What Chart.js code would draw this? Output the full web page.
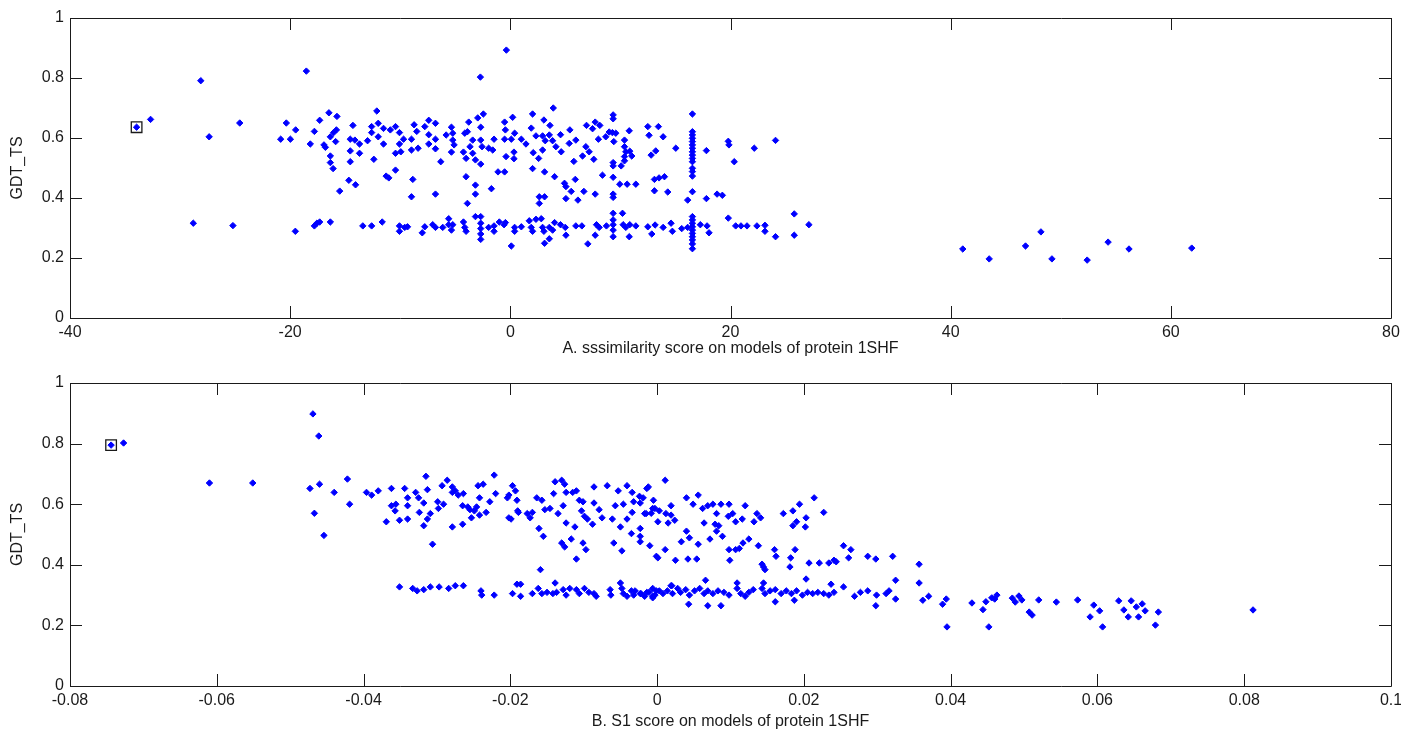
<!DOCTYPE html>
<html>
<head>
<meta charset="utf-8">
<script src="https://cdn.jsdelivr.net/npm/chart.js@4.4.0/dist/chart.umd.min.js"></script>
<style>
  html, body { margin: 0; padding: 0; background: #fff; }
  #wrap { position: relative; width: 1401px; height: 731px; }
  canvas { position: absolute; left: 0; }
  #chartA { top: 0; }
  #chartB { top: 365px; }
</style>
</head>
<body>
<div id="wrap">
  <canvas id="chartA" width="1401" height="365"></canvas>
  <canvas id="chartB" width="1401" height="366"></canvas>
</div>
<script>
// ---- panel A : sssimilarity score vs GDT_TS ----
var topXTicks = [-40, -20, 0, 20, 40, 60, 80];
var yTicks = [0, 0.2, 0.4, 0.6, 0.8, 1];

var topX = [
  -33.95, -32.68, -28.12, -27.36, -24.58, -28.8, -25.2, -18.53, -2.72, -0.36,
  -20.35, -20.86, -19.98, -19.5, -16.48, -15.75, -17.32, -17.8, -18.17, -16.93,
  -16.8, -16.35, -16.05, -15.8, -15.87, -16.35, -16.35, -16.1, -15.5, -14.67,
  -14.06, -14.3, -14.54, -14.12, -13.7, -14.54, -13.7, -14.54, -12.97, -12.4,
  -12.13, -12.0, -12.6, -12.6, -12.0, -11.52, -11.52, -10.9, -10.43, -10.07,
  -10.07, -10.43, -9.95, -11.28, -11.04, -10.43, -9.7, -8.98, -8.74, -8.5,
  -8.98, -8.38, -8.86, -8.98, -7.41, -7.77, -6.8, -7.41, -7.41, -6.8,
  -6.8, -6.32, -6.8, -5.83, -5.35, -5.23, -5.23, -5.11, -5.35, -4.26,
  -4.14, -3.78, -2.96, -2.45, -2.69, -3.9, -3.42, -4.02, -3.42, -3.17,
  -3.66, -2.69, -2.57, -1.97, -1.6, -1.48, -2.69, -4.02, -3.17, -3.17,
  -3.9, -1.72, -1.12, -0.52, -0.52, -0.52, -0.39,
  -17.8, -17.57, -17.32, -16.35, -13.4, -12.6, -11.64, -10.07, -10.07, -9.59,
  -9.34, -8.0, -7.77, -7.05, -6.8, -6.14, -5.6, -5.6, -5.23, -5.35,
  -4.26, -4.14, -4.02, -3.17, -2.69, -2.69, -2.69, -2.69, -2.69, -1.97,
  -1.48, -1.48, -1.0, -0.45, -19.53,
  3.9, 2.02, 0.21, 3.05, 3.6, 1.9, -0.45, 0.39, 0.09, 1.0,
  1.42, 2.33, 2.93, 3.54, 3.17, 3.84, 4.56, 4.14, 4.62, 2.93,
  2.08, 2.57, 0.33, 0.33, 5.35, 5.95, 5.41, 6.92, 7.71, 7.47,
  8.13, 9.34, 9.34, 9.27, 8.98, 9.58, 8.67, 8.0, 9.4, 6.86,
  7.16, 6.56, 7.58, 5.77, 9.34, 9.34, 10.07, 10.37, 10.37, 10.49,
  10.37, 10.37, 10.85, 11.03, 10.8, 12.49, 13.45, 12.6, 13.88, 13.21,
  12.79, 15.03, 2.02, 3.11, 4.02, 5.9, 4.92, 5.05, 8.37, 9.34,
  9.94, 10.61, 11.4, 5.53, 6.68, 7.71, 9.34, 9.34, 5.05, 6.14,
  2.63, 3.11, 2.63, 13.09, 13.51, 14.0, 13.09, 14.3, 16.11, 17.81,
  18.78, 19.26, 17.81, 19.8, 19.86, 20.34, 22.16, 24.09,
  16.54, 16.54, 16.54, 16.54, 16.54, 16.54, 16.54, 16.54, 16.54, 16.54,
  16.54, 16.54, 16.54, 16.54, 16.54, 16.54, 16.54, 16.54, 16.54, 16.54,
  16.54, 16.54, 16.54, 16.54, 16.54,
  16.11, 17.26, 17.87, 18.05, 15.57, 14.6, 14.72, 13.88, 13.15, 12.49,
  12.85, 19.8, 20.47, 20.95, 21.5, 22.4, 23.13, 23.13, 24.09, 25.79,
  25.79, 27.12,
  -0.57, 0.09, 0.39, 0.39, 1.0, 1.72, 1.9, 2.02, 2.33, 2.81,
  2.93, 3.05, 3.11, 3.54, 3.54, 3.84, 4.02, 4.56, 4.99, 5.05,
  5.95, 6.5, 7.04, 7.71, 7.83, 8.07, 8.73, 9.34, 9.34, 9.34,
  9.34, 9.34, 10.19, 10.25, 10.49, 10.85, 11.4, 10.8,
  41.1, 43.5, 46.8, 48.2, 49.2, 52.4, 54.3, 56.2, 61.9
];
var topY = [
  0.636, 0.662, 0.791, 0.604, 0.650, 0.316, 0.308, 0.823, 0.803, 0.893,
  0.650, 0.596, 0.596, 0.627, 0.684, 0.672, 0.659, 0.622, 0.580, 0.577,
  0.569, 0.604, 0.618, 0.627, 0.588, 0.540, 0.518, 0.498, 0.423, 0.459,
  0.444, 0.642, 0.596, 0.593, 0.580, 0.557, 0.549, 0.521, 0.591, 0.529,
  0.690, 0.649, 0.638, 0.618, 0.604, 0.632, 0.580, 0.627, 0.638, 0.618,
  0.580, 0.549, 0.554, 0.473, 0.467, 0.493, 0.596, 0.596, 0.644, 0.622,
  0.560, 0.566, 0.462, 0.404, 0.659, 0.638, 0.649, 0.611, 0.580, 0.596,
  0.564, 0.521, 0.413, 0.610, 0.636, 0.616, 0.593, 0.577, 0.553, 0.553,
  0.616, 0.653, 0.667, 0.680, 0.636, 0.621, 0.593, 0.532, 0.549, 0.527,
  0.571, 0.593, 0.571, 0.566, 0.560, 0.596, 0.513, 0.471, 0.443, 0.413,
  0.382, 0.431, 0.487, 0.487, 0.653, 0.596, 0.538,
  0.307, 0.316, 0.320, 0.320, 0.307, 0.307, 0.320, 0.307, 0.289, 0.302,
  0.304, 0.284, 0.304, 0.311, 0.302, 0.302, 0.331, 0.311, 0.311, 0.293,
  0.320, 0.302, 0.289, 0.338, 0.338, 0.316, 0.298, 0.280, 0.262, 0.302,
  0.307, 0.289, 0.320, 0.318, 0.289,
  0.700, 0.680, 0.669, 0.660, 0.642, 0.633, 0.627, 0.616, 0.596, 0.596,
  0.580, 0.607, 0.607, 0.610, 0.591, 0.591, 0.611, 0.571, 0.554, 0.560,
  0.551, 0.532, 0.553, 0.531, 0.582, 0.593, 0.627, 0.642, 0.653, 0.631,
  0.642, 0.677, 0.664, 0.618, 0.620, 0.616, 0.604, 0.596, 0.588, 0.571,
  0.554, 0.540, 0.529, 0.522, 0.518, 0.507, 0.507, 0.593, 0.571, 0.554,
  0.538, 0.524, 0.556, 0.540, 0.624, 0.638, 0.638, 0.609, 0.604, 0.557,
  0.543, 0.566, 0.498, 0.487, 0.471, 0.462, 0.449, 0.438, 0.476, 0.469,
  0.446, 0.446, 0.446, 0.422, 0.422, 0.413, 0.413, 0.402, 0.398, 0.393,
  0.404, 0.404, 0.382, 0.462, 0.467, 0.471, 0.424, 0.420, 0.393, 0.398,
  0.413, 0.409, 0.558, 0.589, 0.577, 0.521, 0.566, 0.592,
  0.680, 0.621, 0.610, 0.599, 0.588, 0.577, 0.566, 0.554, 0.543, 0.532,
  0.521, 0.499, 0.488, 0.473, 0.421, 0.338, 0.327, 0.316, 0.304, 0.293,
  0.282, 0.271, 0.260, 0.247, 0.231,
  0.302, 0.311, 0.307, 0.284, 0.298, 0.316, 0.289, 0.302, 0.310, 0.304,
  0.280, 0.333, 0.307, 0.307, 0.307, 0.307, 0.309, 0.289, 0.271, 0.347,
  0.276, 0.311,
  0.311, 0.240, 0.302, 0.289, 0.304, 0.324, 0.302, 0.289, 0.329, 0.331,
  0.302, 0.289, 0.249, 0.302, 0.264, 0.293, 0.318, 0.311, 0.302, 0.276,
  0.307, 0.307, 0.247, 0.276, 0.311, 0.302, 0.307, 0.349, 0.327, 0.311,
  0.293, 0.271, 0.349, 0.311, 0.302, 0.311, 0.307, 0.271,
  0.230, 0.197, 0.240, 0.287, 0.197, 0.193, 0.253, 0.230, 0.233
];
// boxed model in panel A
var topMarkX = [-33.95];
var topMarkY = [0.636];

// ---- panel B : S1 score vs GDT_TS ----
var botXTicks = [-0.08, -0.06, -0.04, -0.02, 0, 0.02, 0.04, 0.06, 0.08, 0.1];

var botX = [
  -0.0744, -0.0727, -0.061, -0.0551, -0.0469, -0.0461, -0.0473, -0.046, -0.0467, -0.0454, -0.0422, -0.0419,
  -0.044, -0.0396, -0.0389, -0.038, -0.0362, -0.0344, -0.0362, -0.0356, -0.0357, -0.0369,
  -0.0351, -0.034, -0.034, -0.034, -0.0329, -0.0325, -0.0324, -0.0318, -0.0313, -0.0315,
  -0.0313, -0.0318, -0.0309, -0.0306, -0.0299, -0.0298, -0.0291, -0.0293, -0.0286, -0.0279,
  -0.0279, -0.0275, -0.0271, -0.0264, -0.0265, -0.0279, -0.0265, -0.0258, -0.0255, -0.0253,
  -0.0249, -0.0246, -0.0242, -0.0242, -0.0244, -0.0237, -0.0222, -0.022, -0.0228, -0.0233,
  -0.0204, -0.0202, -0.0197, -0.0193, -0.0191, -0.0202, -0.0199, -0.019, -0.0189, -0.0177,
  -0.0173, -0.017, -0.0164, -0.0157, -0.0161, -0.0155, -0.0159, -0.0153, -0.0146, -0.0141,
  -0.0139, -0.013, -0.0126, -0.0124, -0.0135, -0.0128, -0.0124, -0.013, -0.0126, -0.0117,
  -0.0115, -0.011, -0.0112, -0.011, -0.0106, -0.0101, -0.0103, -0.0101, -0.0097, -0.0099,
  -0.0095, -0.0088, -0.0086, -0.0086, -0.0079, -0.0075, -0.0068, -0.0061, -0.0059, -0.0057,
  -0.0053, -0.005, -0.0048, -0.0046, -0.0041, -0.0041, -0.0035, -0.0034, -0.0034, -0.0032,
  -0.0024, -0.0023, -0.0023, -0.0023, -0.0015, -0.0014, -0.001, -0.0008, -0.0003, -0.0001,
  -0.0351, -0.0333, -0.0327, -0.0318, -0.0309, -0.0297, -0.0284, -0.0275, -0.0264, -0.024,
  -0.0239, -0.0222, -0.0197, -0.0191, -0.0186, -0.0186, -0.017, -0.0162, -0.0157, -0.015,
  -0.0142, -0.0139, -0.0137, -0.0128, -0.0124, -0.0119, -0.011, -0.0106, -0.0099, -0.0093,
  -0.0086, -0.0083, -0.0064, -0.0063, -0.005, -0.0048, -0.0046, -0.0041, -0.0035, -0.0032,
  -0.003, -0.0023, -0.0014, -0.0006, -0.0001,
  0.0011, -0.0012, -0.0019, -0.0005, -0.0023, -0.0017, -0.0006, 0.0003, 0.0012, 0.0019,
  0.0019, 0.0015, 0.0024, 0.0001, 0.0001, 0.0011, 0.0025, 0.004, 0.0049, 0.0056,
  0.0062, 0.0069, 0.0076, 0.0087, 0.0098, 0.0081, 0.0064, 0.0079, 0.0084, 0.0081,
  0.0072, 0.0089, 0.004, 0.0044, 0.0033, 0.0056, 0.0042, 0.0054, 0.0097, 0.0103,
  0.0107, 0.0116, 0.012, 0.0136, 0.0141, 0.0132, 0.0098, 0.0107, 0.0112, 0.0099,
  0.0117, 0.0125, 0.0138, 0.0143, 0.0145, 0.0147, 0.016, 0.0162, 0.0172, 0.0185,
  0.0194, 0.0185, 0.019, 0.0203, 0.0202, 0.0214, 0.0227, 0.0182, 0.0181, 0.0188,
  0.0207, 0.0221, 0.0234, 0.0241, 0.0244, 0.0254, 0.0264, 0.0261, 0.0287, 0.0298,
  0.0321, 0.0357, 0.0357, 0.0325, 0.0254, 0.0237, 0.0203, 0.0145, 0.0109, 0.0066,
  0.002,
  -0.0022, -0.0017, -0.0011, -0.0006, -0.0003, 0.0003, 0.0008, 0.0014, 0.0019, 0.0021,
  0.0028, 0.0032, 0.0039, 0.0044, 0.0051, 0.0058, 0.0064, 0.0069, 0.0076, 0.0083,
  0.0091, 0.0098, 0.0109, 0.0114, 0.012, 0.0125, 0.0131, 0.0143, 0.0147, 0.0154,
  0.0161, 0.0169, 0.0176, 0.0183, 0.019, 0.0198, 0.0205, 0.0212, 0.0219, 0.0227,
  0.0234, 0.0241,
  0.0043, 0.0069, 0.0087, -0.0006, 0.0161, 0.0187, 0.0269, 0.0277, 0.0287, 0.0299,
  0.0298, 0.0312, 0.0316, 0.0325, 0.0362, 0.037, 0.0389, 0.0394, 0.0429, 0.0444,
  0.0448, 0.0456, 0.0463,
  0.0395, 0.0452, 0.046, 0.0484, 0.0488, 0.0493, 0.0497, 0.0507, 0.0511, 0.052,
  0.0544, 0.0573, 0.059, 0.0595, 0.0603, 0.0607, 0.0629, 0.0636, 0.0642, 0.0646,
  0.0653, 0.0656, 0.0661, 0.0665, 0.0679, 0.0683, 0.0812
];
var botY = [
  0.795, 0.802, 0.670, 0.670, 0.898, 0.825, 0.652, 0.666, 0.570, 0.497, 0.683, 0.600,
  0.639, 0.639, 0.630, 0.644, 0.652, 0.652, 0.595, 0.600, 0.578, 0.542,
  0.547, 0.595, 0.621, 0.551, 0.639, 0.621, 0.573, 0.604, 0.648, 0.692,
  0.551, 0.529, 0.569, 0.468, 0.608, 0.586, 0.600, 0.661, 0.679, 0.657,
  0.639, 0.644, 0.630, 0.635, 0.595, 0.525, 0.534, 0.591, 0.582, 0.555,
  0.578, 0.591, 0.621, 0.564, 0.661, 0.666, 0.696, 0.635, 0.608, 0.573,
  0.621, 0.630, 0.661, 0.644, 0.613, 0.555, 0.551, 0.578, 0.573, 0.569,
  0.555, 0.573, 0.621, 0.613, 0.520, 0.494, 0.384, 0.582, 0.586, 0.635,
  0.674, 0.679, 0.666, 0.639, 0.569, 0.595, 0.538, 0.472, 0.459, 0.485,
  0.639, 0.644, 0.525, 0.419, 0.613, 0.608, 0.578, 0.472, 0.450, 0.560,
  0.551, 0.534, 0.604, 0.657, 0.582, 0.555, 0.661, 0.551, 0.472, 0.595,
  0.644, 0.525, 0.446, 0.600, 0.661, 0.551, 0.503, 0.639, 0.573, 0.608,
  0.626, 0.520, 0.494, 0.476, 0.569, 0.652, 0.463, 0.570, 0.586, 0.428,
  0.327, 0.322, 0.314, 0.318, 0.327, 0.327, 0.322, 0.331, 0.331, 0.314,
  0.300, 0.300, 0.305, 0.336, 0.336, 0.296, 0.305, 0.322, 0.305, 0.309,
  0.305, 0.340, 0.309, 0.318, 0.300, 0.322, 0.318, 0.305, 0.322, 0.309,
  0.305, 0.296, 0.318, 0.300, 0.340, 0.322, 0.305, 0.296, 0.314, 0.300,
  0.314, 0.305, 0.309, 0.296, 0.314,
  0.679, 0.657, 0.621, 0.613, 0.604, 0.569, 0.586, 0.578, 0.569, 0.595,
  0.564, 0.538, 0.547, 0.542, 0.423, 0.450, 0.415, 0.621, 0.600, 0.630,
  0.586, 0.595, 0.600, 0.600, 0.600, 0.569, 0.538, 0.534, 0.529, 0.511,
  0.485, 0.494, 0.511, 0.489, 0.476, 0.468, 0.419, 0.419, 0.560, 0.569,
  0.542, 0.551, 0.595, 0.569, 0.555, 0.542, 0.450, 0.450, 0.454, 0.415,
  0.472, 0.485, 0.463, 0.402, 0.393, 0.384, 0.450, 0.428, 0.569, 0.578,
  0.600, 0.529, 0.542, 0.555, 0.525, 0.621, 0.573, 0.423, 0.393, 0.450,
  0.406, 0.406, 0.406, 0.415, 0.410, 0.463, 0.450, 0.423, 0.428, 0.419,
  0.428, 0.402, 0.340, 0.349, 0.327, 0.336, 0.353, 0.340, 0.340, 0.349,
  0.331,
  0.305, 0.296, 0.309, 0.322, 0.300, 0.314, 0.305, 0.314, 0.331, 0.305,
  0.322, 0.309, 0.318, 0.300, 0.314, 0.322, 0.305, 0.314, 0.305, 0.314,
  0.309, 0.300, 0.322, 0.305, 0.296, 0.309, 0.318, 0.322, 0.305, 0.314,
  0.318, 0.305, 0.314, 0.305, 0.314, 0.300, 0.309, 0.305, 0.309, 0.305,
  0.300, 0.309,
  0.270, 0.265, 0.265, 0.291, 0.278, 0.283, 0.296, 0.309, 0.314, 0.300,
  0.265, 0.305, 0.314, 0.287, 0.283, 0.296, 0.270, 0.287, 0.274, 0.252,
  0.278, 0.291, 0.300,
  0.195, 0.195, 0.287, 0.290, 0.277, 0.297, 0.284, 0.244, 0.234, 0.284,
  0.277, 0.284, 0.228, 0.267, 0.248, 0.195, 0.281, 0.251, 0.228, 0.281,
  0.261, 0.228, 0.271, 0.248, 0.201, 0.244, 0.251
];
// boxed model in panel B
var botMarkX = [-0.0744];
var botMarkY = [0.795];

var BLUE = 'rgb(0,0,255)';
var INK = '#1a1a1a';
var TICK_LEN = 12;

Chart.defaults.font.family = '"Liberation Sans", Arial, sans-serif';
Chart.defaults.font.size = 16;
Chart.defaults.color = INK;

function toPoints(xs, ys) {
    var pts = [];
    for (var i = 0; i < xs.length; i++) {
        pts.push({ x: xs[i], y: ys[i] });
    }
    return pts;
}

// matlab style box with inward tick marks on all four sides
var matlabBox = {
    id: 'matlabBox',
    afterDatasetsDraw(chart) {
        var ctx = chart.ctx;
        var a = chart.chartArea;
        var xs = chart.scales.x, ys = chart.scales.y;
        ctx.save();
        ctx.strokeStyle = INK;
        ctx.lineWidth = 1;
        ctx.beginPath();
        ctx.rect(Math.round(a.left) + 0.5, Math.round(a.top) + 0.5,
                 Math.round(a.right - a.left), Math.round(a.bottom - a.top));
        xs.ticks.forEach(function (t) {
            var px = Math.round(xs.getPixelForValue(t.value)) + 0.5;
            ctx.moveTo(px, a.bottom);
            ctx.lineTo(px, a.bottom - TICK_LEN);
            ctx.moveTo(px, a.top);
            ctx.lineTo(px, a.top + TICK_LEN);
        });
        ys.ticks.forEach(function (t) {
            var py = Math.round(ys.getPixelForValue(t.value)) + 0.5;
            ctx.moveTo(a.left, py);
            ctx.lineTo(a.left + TICK_LEN, py);
            ctx.moveTo(a.right, py);
            ctx.lineTo(a.right - TICK_LEN, py);
        });
        ctx.stroke();
        ctx.restore();
    }
};

function makeChart(id, xs, ys, markX, markY, xMin, xMax, xTicks, xTitle, xAxisH, titlePad) {
    var ctx = document.getElementById(id).getContext('2d');
    return new Chart(ctx, {
        type: 'scatter',
        data: {
            datasets: [{
                data: toPoints(xs, ys),
                pointStyle: 'rectRot',
                pointRadius: 3.2,
                backgroundColor: BLUE,
                borderColor: BLUE,
                borderWidth: 1
            }, {
                data: toPoints(markX, markY),
                pointStyle: 'rect',
                pointRadius: 7.5,
                backgroundColor: 'rgba(0,0,0,0)',
                borderColor: INK,
                borderWidth: 1.3
            }]
        },
        options: {
            responsive: false,
            animation: false,
            devicePixelRatio: 1,
            layout: { padding: { top: 18, right: 10, left: 0, bottom: 0 } },
            plugins: {
                legend: { display: false },
                tooltip: { enabled: false }
            },
            scales: {
                x: {
                    type: 'linear',
                    min: xMin,
                    max: xMax,
                    afterBuildTicks: function (s) {
                        s.ticks = xTicks.map(function (v) { return { value: v }; });
                    },
                    afterFit: function (s) {
                        s.height = xAxisH;
                        // let the end labels hang over, like matlab does
                        s.paddingLeft = 0;
                        s.paddingRight = 0;
                    },
                    grid: { display: false, drawTicks: false },
                    border: { display: false },
                    ticks: {
                        padding: 5,
                        maxRotation: 0,
                        autoSkip: false,
                        callback: function (v) { return String(v); }
                    },
                    title: {
                        display: true,
                        text: xTitle,
                        padding: { top: 0, bottom: titlePad }
                    }
                },
                y: {
                    type: 'linear',
                    min: 0,
                    max: 1,
                    afterBuildTicks: function (s) {
                        s.ticks = yTicks.map(function (v) { return { value: v }; });
                    },
                    afterFit: function (s) { s.width = 70; },
                    grid: { display: false, drawTicks: false },
                    border: { display: false },
                    ticks: {
                        padding: 6,
                        callback: function (v) { return String(v); }
                    },
                    title: {
                        display: true,
                        text: 'GDT_TS',
                        padding: { top: 8, bottom: 0 }
                    }
                }
            }
        },
        plugins: [matlabBox]
    });
}

makeChart('chartA', topX, topY, topMarkX, topMarkY, -40, 80, topXTicks,
    'A. sssimilarity score on models of protein 1SHF', 47, 7);
makeChart('chartB', botX, botY, botMarkX, botMarkY, -0.08, 0.1, botXTicks,
    'B. S1 score on models of protein 1SHF', 45, 0);
</script>
</body>
</html>
